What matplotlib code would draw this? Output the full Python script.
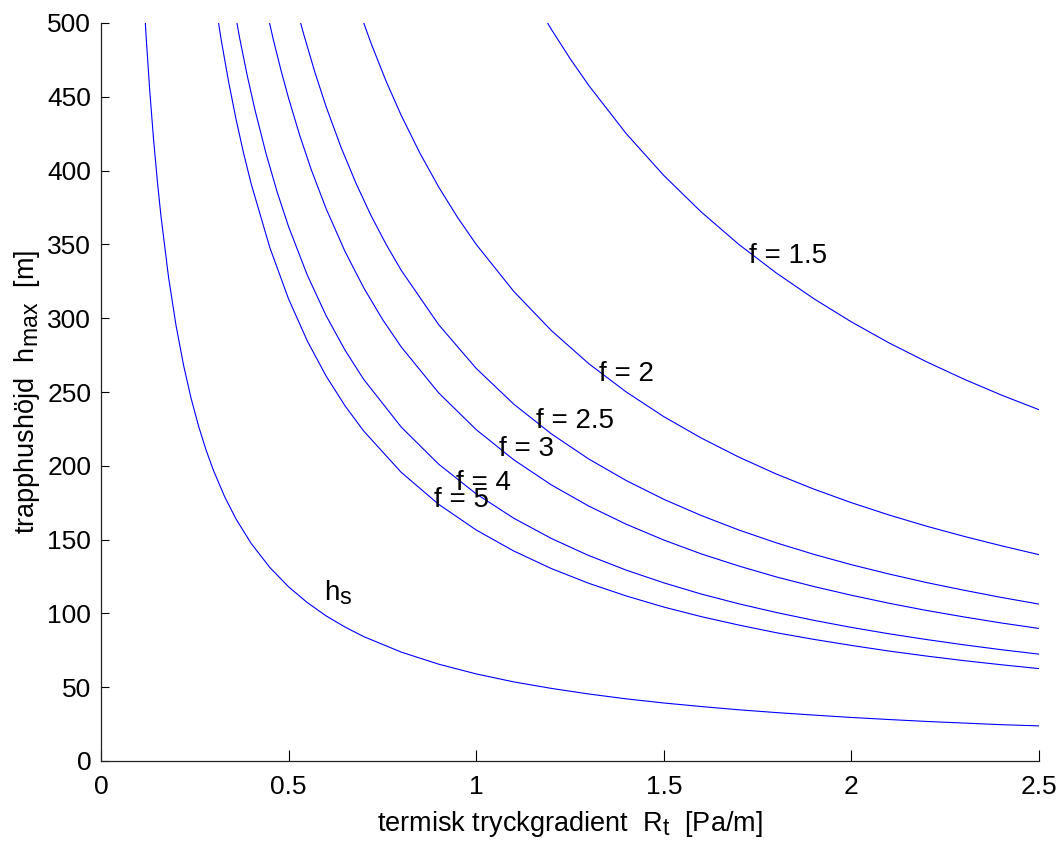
import matplotlib
matplotlib.use("Agg")
import matplotlib.pyplot as plt
import matplotlib._mathtext as _mt

_mt.SHRINK_FACTOR = 0.85

plt.rcParams['font.family'] = ['Liberation Sans', 'DejaVu Sans']
plt.rcParams['mathtext.fontset'] = 'custom'
plt.rcParams['mathtext.rm'] = 'Liberation Sans'
plt.rcParams['mathtext.it'] = 'Liberation Sans'
plt.rcParams['mathtext.default'] = 'regular'

# ---- data ----
R_hs = [0.10, 0.11, 0.12, 0.13, 0.14, 0.15, 0.16, 0.18, 0.20, 0.22, 0.24, 0.26, 0.28,
        0.30, 0.33, 0.36, 0.40, 0.45, 0.50, 0.55, 0.60, 0.65, 0.70, 0.80, 0.90, 1.00,
        1.10, 1.20, 1.30, 1.40, 1.50, 1.60, 1.70, 1.80, 1.90, 2.00, 2.10, 2.20, 2.30,
        2.40, 2.50]
h_s = [590.0, 536.4, 491.7, 453.8, 421.4, 393.3, 368.8, 327.8, 295.0, 268.2, 245.8,
       226.9, 210.7, 196.7, 178.8, 163.9, 147.5, 131.1, 118.0, 107.3, 98.3, 90.8, 84.3,
       73.8, 65.6, 59.0, 53.6, 49.2, 45.4, 42.1, 39.3, 36.9, 34.7, 32.8, 31.1, 29.5,
       28.1, 26.8, 25.7, 24.6, 23.8]

R_f5 = [0.30, 0.32, 0.34, 0.36, 0.38, 0.40, 0.45, 0.50, 0.55, 0.60, 0.65, 0.70, 0.80,
        0.90, 1.00, 1.10, 1.20, 1.30, 1.40, 1.50, 1.60, 1.70, 1.80, 1.90, 2.00, 2.10,
        2.20, 2.30, 2.40, 2.50]
h_f5 = [521.7, 489.1, 460.3, 434.7, 411.8, 391.3, 347.8, 313.0, 284.5, 260.8, 240.8,
        223.6, 195.6, 173.9, 156.5, 142.3, 130.4, 120.4, 111.8, 104.3, 97.8, 92.1, 86.9,
        82.4, 78.3, 74.5, 71.1, 68.0, 65.2, 62.6]

R_f4 = [0.35, 0.37, 0.39, 0.41, 0.44, 0.47, 0.50, 0.55, 0.60, 0.65, 0.70, 0.80, 0.90,
        1.00, 1.10, 1.20, 1.30, 1.40, 1.50, 1.60, 1.70, 1.80, 1.90, 2.00, 2.10, 2.20,
        2.30, 2.40, 2.50]
h_f4 = [517.1, 489.2, 464.1, 441.5, 411.4, 385.1, 362.0, 329.1, 301.7, 278.5, 258.6,
        226.3, 201.1, 181.0, 164.5, 150.8, 139.2, 129.3, 120.7, 113.1, 106.5, 100.6, 95.3,
        90.5, 86.2, 82.3, 78.7, 75.4, 72.4]

R_f3 = [0.44, 0.46, 0.48, 0.50, 0.53, 0.56, 0.60, 0.65, 0.70, 0.75, 0.80, 0.90, 1.00,
        1.10, 1.20, 1.30, 1.40, 1.50, 1.60, 1.70, 1.80, 1.90, 2.00, 2.10, 2.20, 2.30,
        2.40, 2.50]
h_f3 = [510.2, 488.0, 467.7, 449.0, 423.6, 400.9, 374.2, 345.4, 320.7, 299.3, 280.6,
        249.4, 224.5, 204.1, 187.1, 172.7, 160.4, 149.7, 140.3, 132.1, 124.7, 118.2, 112.3,
        106.9, 102.0, 97.6, 93.5, 89.8]

R_f25 = [0.52, 0.54, 0.57, 0.60, 0.64, 0.68, 0.72, 0.76, 0.80, 0.90, 1.00, 1.10, 1.20,
         1.30, 1.40, 1.50, 1.60, 1.70, 1.80, 1.90, 2.00, 2.10, 2.20, 2.30, 2.40, 2.50]
h_f25 = [511.5, 492.6, 466.7, 443.3, 415.6, 391.2, 369.4, 350.0, 332.5, 295.6, 266.0,
         241.8, 221.7, 204.6, 190.0, 177.3, 166.3, 156.5, 147.8, 140.0, 133.0, 126.7,
         120.9, 115.7, 110.8, 106.3]

R_f2 = [0.69, 0.72, 0.76, 0.80, 0.85, 0.90, 0.95, 1.00, 1.10, 1.20, 1.30, 1.40, 1.50,
        1.60, 1.70, 1.80, 1.90, 2.00, 2.10, 2.20, 2.30, 2.40, 2.50]
h_f2 = [507.2, 486.1, 460.5, 437.5, 411.8, 388.9, 368.4, 350.0, 318.2, 291.7, 269.2,
        250.0, 233.3, 218.8, 205.9, 194.4, 184.2, 175.0, 166.7, 159.1, 152.2, 145.8, 139.8]

R_f15 = [1.15, 1.20, 1.25, 1.30, 1.40, 1.50, 1.60, 1.70, 1.80, 1.90, 2.00, 2.10, 2.20,
         2.30, 2.40, 2.50]
h_f15 = [517.4, 495.8, 476.0, 457.7, 425.0, 396.7, 371.9, 350.0, 330.6, 313.2, 297.5,
         283.3, 270.5, 258.7, 247.9, 238.0]

curve_labels = ['f = 1.5', 'f = 2', 'f = 2.5', 'f = 3', 'f = 4', 'f = 5', '$h_s$']
label_x = [1.728, 1.326, 1.159, 1.061, 0.946, 0.888, 0.595]
label_y = [337.4, 257.3, 225.4, 206.9, 183.6, 171.9, 108.5]

x_ticks = [0, 0.5, 1, 1.5, 2, 2.5]
y_ticks = list(range(0, 501, 50))

# ---- figure ----
fig = plt.figure(figsize=(10.64, 8.43), dpi=100)
ax = fig.add_axes([101 / 1064, 82 / 843, 938 / 1064, 738 / 843])

series = [(R_f15, h_f15), (R_f2, h_f2), (R_f25, h_f25), (R_f3, h_f3),
          (R_f4, h_f4), (R_f5, h_f5), (R_hs, h_s)]
for xs, ys in series:
    ax.plot(xs, ys, color='#0000ff', lw=0.8)

for t, x, y in zip(curve_labels, label_x, label_y):
    ax.text(x, y, t, fontsize=20, va='baseline', ha='left', color='black')

ax.set_xlim(0, 2.5)
ax.set_ylim(0, 500)
ax.set_xticks(x_ticks)
ax.set_xticklabels(['0', '0.5', '1', '1.5', '2', '2.5'])
ax.set_yticks(y_ticks)

for s in ['top', 'right']:
    ax.spines[s].set_visible(False)
for s in ['left', 'bottom']:
    ax.spines[s].set_linewidth(0.9)
    ax.spines[s].set_color('#222222')

ax.tick_params(axis='x', direction='in', length=8, width=0.8, labelsize=19, pad=10)
ax.tick_params(axis='y', direction='in', length=6, width=0.8, labelsize=19, pad=7)

ax.set_xlabel('termisk tryckgradient  $R_t$  [Pa/m]', fontsize=19.5, labelpad=7)
ax.set_ylabel('trapphushöjd  $h_{max}$  [m]', fontsize=19.5, labelpad=4)

fig.savefig('out.png', dpi=100)
